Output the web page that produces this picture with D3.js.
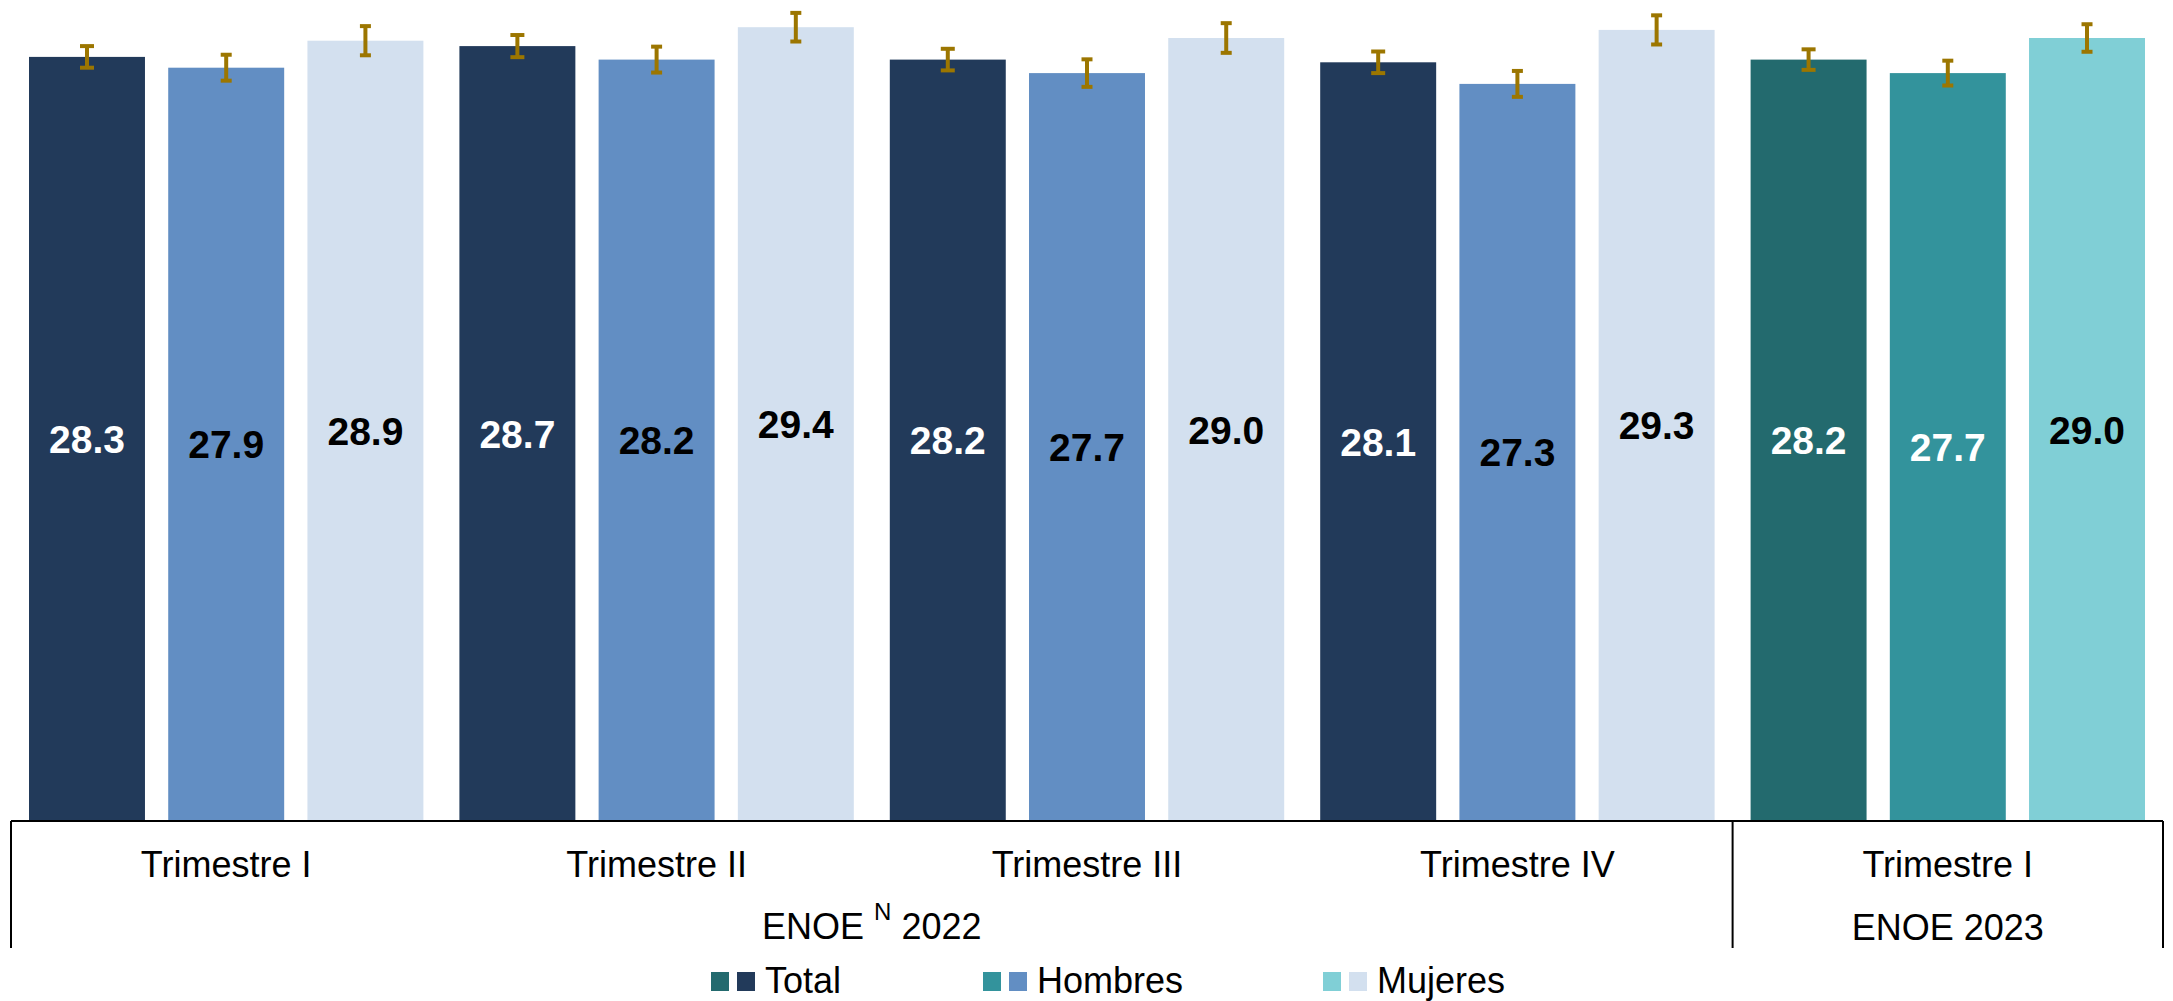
<!DOCTYPE html>
<html>
<head>
<meta charset="utf-8">
<script src="https://cdn.jsdelivr.net/npm/d3@7"></script>
<style>
  html, body { margin: 0; padding: 0; background: #ffffff; }
  svg { display: block; font-family: Arial, "Liberation Sans", sans-serif; }
</style>
</head>
<body>
<svg id="chart" width="2173" height="1001"></svg>
<script>
// ---- data ----
const categories = ["Trimestre I", "Trimestre II", "Trimestre III", "Trimestre IV", "Trimestre I"];
const periodLabels = ["ENOE", "ENOE 2023"];
const periodSpans = [4, 1];
const seriesNames = ["Total", "Hombres", "Mujeres"];
const totalValues   = [28.3, 28.7, 28.2, 28.1, 28.2];
const hombresValues = [27.9, 28.2, 27.7, 27.3, 27.7];
const mujeresValues = [28.9, 29.4, 29.0, 29.3, 29.0];
const totalErrors   = [0.40, 0.41, 0.40, 0.40, 0.38];
const hombresErrors = [0.48, 0.48, 0.51, 0.48, 0.46];
const mujeresErrors = [0.54, 0.53, 0.55, 0.54, 0.51];

// ---- styles ----
const colors2022 = { Total: "#223A5A", Hombres: "#628EC3", Mujeres: "#D3E0EF" };
const colors2023 = { Total: "#236A6E", Hombres: "#33939C", Mujeres: "#80CFD6" };
const labelColors2022 = { Total: "#ffffff", Hombres: "#000000", Mujeres: "#000000" };
const labelColors2023 = { Total: "#ffffff", Hombres: "#ffffff", Mujeres: "#000000" };
const capWidth = { Total: 14, Hombres: 11, Mujeres: 11 };
const errColor = "#9C7600";

const valuesBySeries = { Total: totalValues, Hombres: hombresValues, Mujeres: mujeresValues };
const errorsBySeries = { Total: totalErrors, Hombres: hombresErrors, Mujeres: mujeresErrors };

const svg = d3.select("#chart");
const left = 11, right = 2163, baseY = 821, topY = 11;

const idx = categories.map((d, i) => i);
const x0 = d3.scaleBand().domain(idx).range([left, right]).padding(0);
const x1 = d3.scaleBand().domain(seriesNames)
  .range([18, x0.bandwidth() - 18]).paddingInner(0.167).paddingOuter(0);
const y = d3.scaleLinear().domain([0, 30]).range([baseY, topY]);

const rows = [];
idx.forEach(i => {
  seriesNames.forEach(s => {
    rows.push({ i, s, v: valuesBySeries[s][i], e: errorsBySeries[s][i], is2023: i === 4 });
  });
});

// bars
svg.append("g").selectAll("rect").data(rows).join("rect")
  .attr("x", d => x0(d.i) + x1(d.s))
  .attr("y", d => y(d.v))
  .attr("width", x1.bandwidth())
  .attr("height", d => y(0) - y(d.v))
  .attr("fill", d => (d.is2023 ? colors2023 : colors2022)[d.s]);

// value labels
svg.append("g").selectAll("text").data(rows).join("text")
  .attr("x", d => x0(d.i) + x1(d.s) + x1.bandwidth() / 2)
  .attr("y", d => (y(d.v) + y(0)) / 2)
  .attr("dy", "0.36em")
  .attr("text-anchor", "middle")
  .attr("font-size", 39)
  .attr("font-weight", "bold")
  .attr("fill", d => (d.is2023 ? labelColors2023 : labelColors2022)[d.s])
  .text(d => d.v.toFixed(1));

// error bars
const eg = svg.append("g").attr("stroke", errColor).attr("stroke-width", 4).attr("fill", "none");
rows.forEach(d => {
  const cx = x0(d.i) + x1(d.s) + x1.bandwidth() / 2;
  const y1 = y(d.v + d.e), y2 = y(d.v - d.e);
  const w = capWidth[d.s] / 2;
  eg.append("line").attr("x1", cx).attr("x2", cx).attr("y1", y1).attr("y2", y2);
  eg.append("line").attr("x1", cx - w).attr("x2", cx + w).attr("y1", y1).attr("y2", y1);
  eg.append("line").attr("x1", cx - w).attr("x2", cx + w).attr("y1", y2).attr("y2", y2);
});

// axis lines
const ax = svg.append("g").attr("stroke", "#000").attr("stroke-width", 2);
const axisBottom = 948;
ax.append("line").attr("x1", left).attr("x2", right).attr("y1", baseY).attr("y2", baseY);
let acc = 0;
const bounds = [x0(0)];
periodSpans.forEach(n => { acc += n; bounds.push(acc < categories.length ? x0(acc) : right); });
bounds.forEach(bx => {
  ax.append("line").attr("x1", bx).attr("x2", bx).attr("y1", baseY).attr("y2", axisBottom);
});

// category labels
svg.append("g").selectAll("text").data(idx).join("text")
  .attr("x", i => x0(i) + x0.bandwidth() / 2)
  .attr("y", 877)
  .attr("text-anchor", "middle")
  .attr("font-size", 36)
  .attr("fill", "#000")
  .text(i => categories[i]);

// period labels
const p1c = (bounds[0] + bounds[1]) / 2;
const t1 = svg.append("text").attr("x", p1c).attr("y", 939)
  .attr("text-anchor", "middle").attr("font-size", 36).attr("fill", "#000");
t1.append("tspan").text(periodLabels[0] + " ");
t1.append("tspan").attr("font-size", 24).attr("dy", -19).text("N");
t1.append("tspan").attr("dy", 19).text(" 2022");

svg.append("text").attr("x", (bounds[1] + bounds[2]) / 2).attr("y", 940)
  .attr("text-anchor", "middle").attr("font-size", 36).attr("fill", "#000")
  .text(periodLabels[1]);

// legend
const legendX = [711, 983, 1323];
const lg = svg.append("g");
seriesNames.forEach((s, k) => {
  const g = lg.append("g").attr("transform", `translate(${legendX[k]},0)`);
  g.append("rect").attr("x", 0).attr("y", 972).attr("width", 18).attr("height", 19).attr("fill", colors2023[s]);
  g.append("rect").attr("x", 26).attr("y", 972).attr("width", 18).attr("height", 19).attr("fill", colors2022[s]);
  g.append("text").attr("x", 54).attr("y", 993).attr("font-size", 36).attr("fill", "#000").text(s);
});
</script>
</body>
</html>
